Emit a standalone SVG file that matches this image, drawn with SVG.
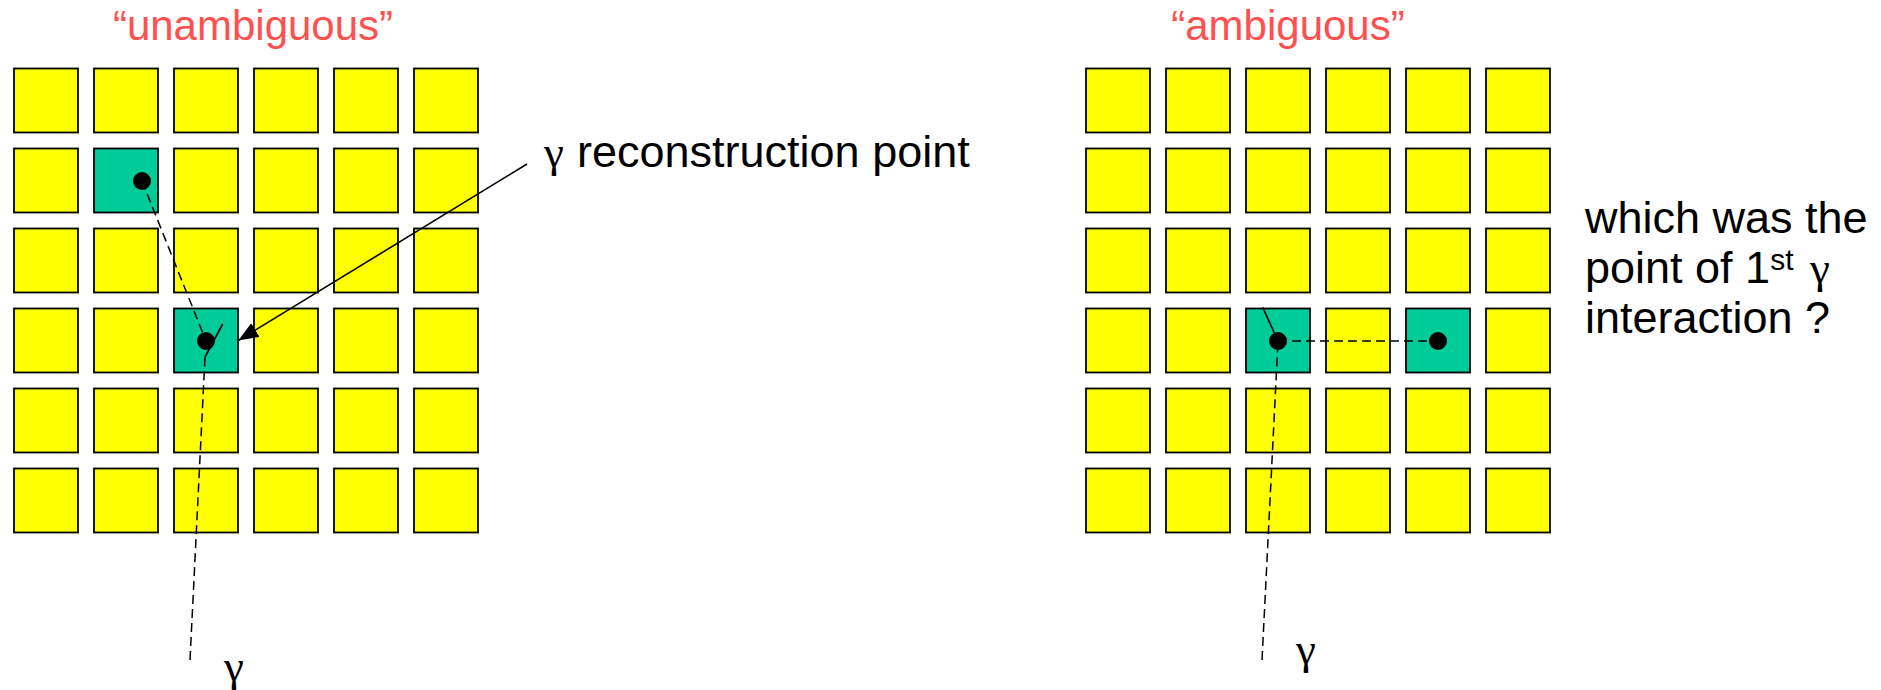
<svg xmlns="http://www.w3.org/2000/svg" width="1881" height="690" viewBox="0 0 1881 690">
  <style>
    .cell { fill: #FFFF00; stroke: #000; stroke-width: 1.8; }
    .hit { fill: #00CC99; stroke: #000; stroke-width: 1.8; }
    .dot { fill: #000; }
    .dash { fill: none; stroke: #000; stroke-width: 1.5; stroke-dasharray: 9 5; }
    .solid { fill: none; stroke: #000; stroke-width: 1.6; }
    .title { font-family: "Liberation Sans", Arial, sans-serif; font-size: 42px; fill: #FF5050; text-anchor: middle; }
    .label { font-family: "Liberation Sans", Arial, sans-serif; font-size: 45px; fill: #000; }
    .greek { font-family: "Liberation Serif", "Times New Roman", serif; font-size: 45px; fill: #000; }
  </style>
  <defs>
    <marker id="arrowhead" viewBox="0 0 20 16" refX="20" refY="8" markerWidth="20" markerHeight="16" markerUnits="userSpaceOnUse" orient="auto">
      <path d="M0,0 L20,8 L0,16 z" fill="#000"/>
    </marker>
    <rect id="sq" width="64" height="64"/>
  </defs>

  <!-- Titles -->
  <text id="title-left" class="title" x="253" y="40">“unambiguous”</text>
  <text id="title-right" class="title" x="1288" y="40">“ambiguous”</text>

  <!-- Left detector: 6x6 crystal matrix -->
  <g id="grid-left">
    <g id="L-r0">
      <use href="#sq" class="cell" x="14" y="68.5"/><use href="#sq" class="cell" x="94" y="68.5"/><use href="#sq" class="cell" x="174" y="68.5"/><use href="#sq" class="cell" x="254" y="68.5"/><use href="#sq" class="cell" x="334" y="68.5"/><use href="#sq" class="cell" x="414" y="68.5"/>
    </g>
    <g id="L-r1">
      <use href="#sq" class="cell" x="14" y="148.5"/><use href="#sq" class="hit" x="94" y="148.5"/><use href="#sq" class="cell" x="174" y="148.5"/><use href="#sq" class="cell" x="254" y="148.5"/><use href="#sq" class="cell" x="334" y="148.5"/><use href="#sq" class="cell" x="414" y="148.5"/>
    </g>
    <g id="L-r2">
      <use href="#sq" class="cell" x="14" y="228.5"/><use href="#sq" class="cell" x="94" y="228.5"/><use href="#sq" class="cell" x="174" y="228.5"/><use href="#sq" class="cell" x="254" y="228.5"/><use href="#sq" class="cell" x="334" y="228.5"/><use href="#sq" class="cell" x="414" y="228.5"/>
    </g>
    <g id="L-r3">
      <use href="#sq" class="cell" x="14" y="308.5"/><use href="#sq" class="cell" x="94" y="308.5"/><use href="#sq" class="hit" x="174" y="308.5"/><use href="#sq" class="cell" x="254" y="308.5"/><use href="#sq" class="cell" x="334" y="308.5"/><use href="#sq" class="cell" x="414" y="308.5"/>
    </g>
    <g id="L-r4">
      <use href="#sq" class="cell" x="14" y="388.5"/><use href="#sq" class="cell" x="94" y="388.5"/><use href="#sq" class="cell" x="174" y="388.5"/><use href="#sq" class="cell" x="254" y="388.5"/><use href="#sq" class="cell" x="334" y="388.5"/><use href="#sq" class="cell" x="414" y="388.5"/>
    </g>
    <g id="L-r5">
      <use href="#sq" class="cell" x="14" y="468.5"/><use href="#sq" class="cell" x="94" y="468.5"/><use href="#sq" class="cell" x="174" y="468.5"/><use href="#sq" class="cell" x="254" y="468.5"/><use href="#sq" class="cell" x="334" y="468.5"/><use href="#sq" class="cell" x="414" y="468.5"/>
    </g>
  </g>

  <!-- Right detector: 6x6 crystal matrix -->
  <g id="grid-right">
    <g id="R-r0">
      <use href="#sq" class="cell" x="1086" y="68.5"/><use href="#sq" class="cell" x="1166" y="68.5"/><use href="#sq" class="cell" x="1246" y="68.5"/><use href="#sq" class="cell" x="1326" y="68.5"/><use href="#sq" class="cell" x="1406" y="68.5"/><use href="#sq" class="cell" x="1486" y="68.5"/>
    </g>
    <g id="R-r1">
      <use href="#sq" class="cell" x="1086" y="148.5"/><use href="#sq" class="cell" x="1166" y="148.5"/><use href="#sq" class="cell" x="1246" y="148.5"/><use href="#sq" class="cell" x="1326" y="148.5"/><use href="#sq" class="cell" x="1406" y="148.5"/><use href="#sq" class="cell" x="1486" y="148.5"/>
    </g>
    <g id="R-r2">
      <use href="#sq" class="cell" x="1086" y="228.5"/><use href="#sq" class="cell" x="1166" y="228.5"/><use href="#sq" class="cell" x="1246" y="228.5"/><use href="#sq" class="cell" x="1326" y="228.5"/><use href="#sq" class="cell" x="1406" y="228.5"/><use href="#sq" class="cell" x="1486" y="228.5"/>
    </g>
    <g id="R-r3">
      <use href="#sq" class="cell" x="1086" y="308.5"/><use href="#sq" class="cell" x="1166" y="308.5"/><use href="#sq" class="hit" x="1246" y="308.5"/><use href="#sq" class="cell" x="1326" y="308.5"/><use href="#sq" class="hit" x="1406" y="308.5"/><use href="#sq" class="cell" x="1486" y="308.5"/>
    </g>
    <g id="R-r4">
      <use href="#sq" class="cell" x="1086" y="388.5"/><use href="#sq" class="cell" x="1166" y="388.5"/><use href="#sq" class="cell" x="1246" y="388.5"/><use href="#sq" class="cell" x="1326" y="388.5"/><use href="#sq" class="cell" x="1406" y="388.5"/><use href="#sq" class="cell" x="1486" y="388.5"/>
    </g>
    <g id="R-r5">
      <use href="#sq" class="cell" x="1086" y="468.5"/><use href="#sq" class="cell" x="1166" y="468.5"/><use href="#sq" class="cell" x="1246" y="468.5"/><use href="#sq" class="cell" x="1326" y="468.5"/><use href="#sq" class="cell" x="1406" y="468.5"/><use href="#sq" class="cell" x="1486" y="468.5"/>
    </g>
  </g>

  <!-- Photon tracks and the label pointer -->
  <g id="connectors">
    <line class="dash" x1="190" y1="660" x2="205" y2="357"/>
    <line class="solid" x1="205" y1="357" x2="222.7" y2="324"/>
    <line class="dash" x1="142" y1="181" x2="206" y2="341"/>
    <line class="solid" x1="527" y1="164" x2="238.3" y2="340.5" marker-end="url(#arrowhead)"/>

    <line class="dash" x1="1262" y1="660" x2="1278" y2="341"/>
    <line class="solid" x1="1262.7" y1="307.3" x2="1278" y2="341"/>
    <line class="dash" x1="1278" y1="341" x2="1438" y2="341"/>
  </g>

  <!-- Interaction points -->
  <g id="points">
    <circle id="pt-left-1" class="dot" cx="142" cy="181" r="9"/>
    <circle id="pt-left-2" class="dot" cx="206" cy="341" r="9"/>
    <circle id="pt-right-1" class="dot" cx="1278" cy="341" r="9"/>
    <circle id="pt-right-2" class="dot" cx="1438" cy="341" r="9"/>
  </g>

  <!-- Labels -->
  <g id="label-reco">
    <text class="greek" x="544" y="167">γ</text>
    <text class="label" x="577" y="167" font-size="46">reconstruction point</text>
  </g>
  <text id="gamma-left" class="greek" x="224" y="681">γ</text>
  <text id="gamma-right" class="greek" x="1296" y="664">γ</text>
  <g id="label-question">
    <text class="label" x="1585" y="233">which was the</text>
    <text class="label" x="1585" y="283">point of 1<tspan font-size="30" dy="-13">st</tspan></text>
    <text class="greek" x="1810" y="283">γ</text>
    <text class="label" x="1585" y="333">interaction ?</text>
  </g>
</svg>
